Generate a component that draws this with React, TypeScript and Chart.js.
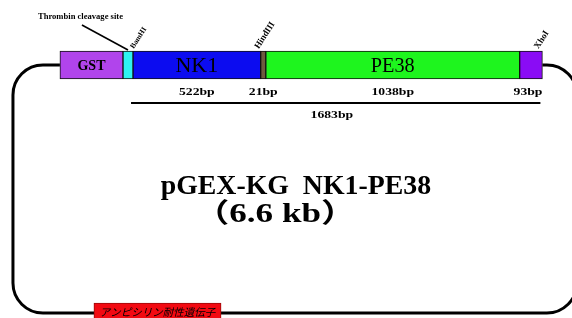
import React, { useEffect, useRef } from "react";
import { Chart, registerables } from "chart.js";

Chart.register(...registerables);

// Construct segments (bp). GST and thrombin site are drawn compressed, as in the map.
const segmentNames = ["GST", "Thrombin", "NK1", "HindIII", "PE38", "XhoI"];
const segmentLengths = [258, 41, 522, 21, 1038, 93];
const segmentColors = ["#b144ec", "#2ef2f2", "#0c0cf0", "#6e5b3e", "#1ef51e", "#8a0cf5"];
const segmentTexts = ["GST", "", "NK1", "", "PE38", ""];
const bpLabels = ["", "", "522bp", "21bp", "1038bp", "93bp"];
const totalLabel = "1683bp";
const siteNames = ["BamHI", "HindIII", "XhoI"];
const siteSegments = [2, 3, 6];
const thrombinLabel = "Thrombin cleavage site";
const ampLabel = "アンピシリン耐性遺伝子";
const ampRange = [139, 659];
const titleLine1 = "pGEX-KG  NK1-PE38";
const titleLine2 = "（6.6 kb）";
// backbone rounded rectangle corners (x in bp units, y in row units)
const backboneX = [-192, 2114];
const backboneY = [65, 313];

const starts: number[] = [];
segmentLengths.reduce((acc, l) => {
  starts.push(acc);
  return acc + l;
}, 0);
const ends = segmentLengths.map((l, i) => starts[i] + l);
const constructEnd = ends[ends.length - 1];

const ROW_Y = 65;
const AMP_Y = 317;

function stretchText(ctx: CanvasRenderingContext2D, t: string, x: number, y: number, sx: number) {
  ctx.save();
  ctx.translate(x, y);
  ctx.scale(sx, 1);
  ctx.fillText(t, 0, 0);
  ctx.restore();
}

export default function App() {
  const ref = useRef<HTMLCanvasElement | null>(null);
  useEffect(() => {
    if (!ref.current) return;
    const serif = "'Liberation Serif', 'Times New Roman', serif";
    const drawPlugin = {
      id: "mapDecor",
      beforeDatasetsDraw(chart: any) {
        const { ctx } = chart;
        const xs = chart.scales.x;
        const ys = chart.scales.y;
        const L = xs.getPixelForValue(backboneX[0]);
        const R = xs.getPixelForValue(backboneX[1]);
        const T = ys.getPixelForValue(backboneY[0]);
        const B = ys.getPixelForValue(backboneY[1]);
        const r = 30;
        ctx.save();
        ctx.strokeStyle = "#000";
        ctx.lineWidth = 3;
        ctx.beginPath();
        ctx.moveTo(xs.getPixelForValue(starts[0]), T);
        ctx.arcTo(L, T, L, B, r);
        ctx.arcTo(L, B, R, B, r);
        ctx.arcTo(R, B, R, T, r);
        ctx.arcTo(R, T, xs.getPixelForValue(constructEnd), T, r);
        ctx.lineTo(xs.getPixelForValue(constructEnd), T);
        ctx.stroke();
        ctx.restore();
      },
      afterDatasetsDraw(chart: any) {
        const { ctx } = chart;
        const xs = chart.scales.x;
        const ys = chart.scales.y;
        const px = (v: number) => xs.getPixelForValue(v);
        const py = (v: number) => ys.getPixelForValue(v);
        ctx.save();
        ctx.fillStyle = "#000";
        ctx.textAlign = "center";
        ctx.textBaseline = "middle";
        // segment names
        segmentTexts.forEach((t, i) => {
          if (!t) return;
          ctx.font = i === 0 ? `bold 14px ${serif}` : `22px ${serif}`;
          stretchText(ctx, t, px((starts[i] + ends[i]) / 2), py(ROW_Y) + 1, i === 4 ? 0.92 : 1);
        });
        // bp labels
        ctx.font = `bold 10.5px ${serif}`;
        bpLabels.forEach((t, i) => {
          if (!t) return;
          stretchText(ctx, t, px((starts[i] + ends[i]) / 2) - (i === 5 ? 3 : 0), py(92), 1.3);
        });
        // bracket line
        ctx.strokeStyle = "#000";
        ctx.lineWidth = 2;
        ctx.beginPath();
        ctx.moveTo(px(starts[2]) - 2, py(103));
        ctx.lineTo(px(constructEnd) - 2, py(103));
        ctx.stroke();
        stretchText(ctx, totalLabel, px(1112), py(115), 1.3);
        // restriction sites
        ctx.textAlign = "left";
        siteNames.forEach((s, i) => {
          const seg = siteSegments[i];
          const x = seg < starts.length ? starts[seg] : constructEnd;
          const off = i === 0 ? -1 : i === 1 ? -4 : -6;
          ctx.font = `bold ${i === 0 ? 7.5 : 9}px ${serif}`;
          ctx.save();
          ctx.translate(px(x) + off, py(48));
          ctx.rotate((-57 * Math.PI) / 180);
          ctx.fillText(s, 0, 0);
          ctx.restore();
        });
        // thrombin pointer
        ctx.textAlign = "center";
        ctx.font = `bold 8px ${serif}`;
        stretchText(ctx, thrombinLabel, px(84), py(17), 1.07);
        ctx.lineWidth = 1.5;
        ctx.beginPath();
        ctx.moveTo(px(90), py(25));
        ctx.lineTo(px((starts[1] + ends[1]) / 2), py(50));
        ctx.stroke();
        // title
        ctx.font = `bold 27px ${serif}, 'Noto Sans CJK JP'`;
        stretchText(ctx, titleLine1, px(965), py(187), 1.03);
        stretchText(ctx, titleLine2, px(880), py(215), 1.3);
        // ampicillin text
        ctx.font = `italic 10.5px 'Noto Sans CJK JP'`;
        ctx.fillText(ampLabel, px((ampRange[0] + ampRange[1]) / 2), py(312));
        ctx.restore();
      },
    };

    const data = [
      ...segmentLengths.map((_, i) => ({ x: [starts[i], ends[i]], y: ROW_Y })),
      { x: ampRange, y: AMP_Y },
    ];
    const chart = new Chart(ref.current, {
      type: "bar",
      data: {
        datasets: [
          {
            data: data as any,
            backgroundColor: [...segmentColors, "#f20a12"],
            borderColor: [...segmentNames.map(() => "#111"), "#9a0a0a"],
            borderWidth: 1,
            borderSkipped: false,
            barThickness: 28,
          } as any,
        ],
      },
      options: {
        indexAxis: "y",
        animation: false,
        responsive: false,
        devicePixelRatio: 1,
        layout: { padding: 0 },
        plugins: { legend: { display: false }, tooltip: { enabled: false }, title: { display: false } },
        scales: {
          x: { type: "linear", min: -245, max: 2094, display: false, offset: false },
          y: { type: "linear", min: 0, max: 318, reverse: true, display: false, offset: false },
        },
      },
      plugins: [drawPlugin],
    });
    return () => chart.destroy();
  }, []);
  return (
    <div style={{ position: "fixed", left: 0, top: 0, width: 572, height: 318, background: "#fff" }}>
      <canvas ref={ref} width={572} height={318} style={{ display: "block" }} />
    </div>
  );
}
